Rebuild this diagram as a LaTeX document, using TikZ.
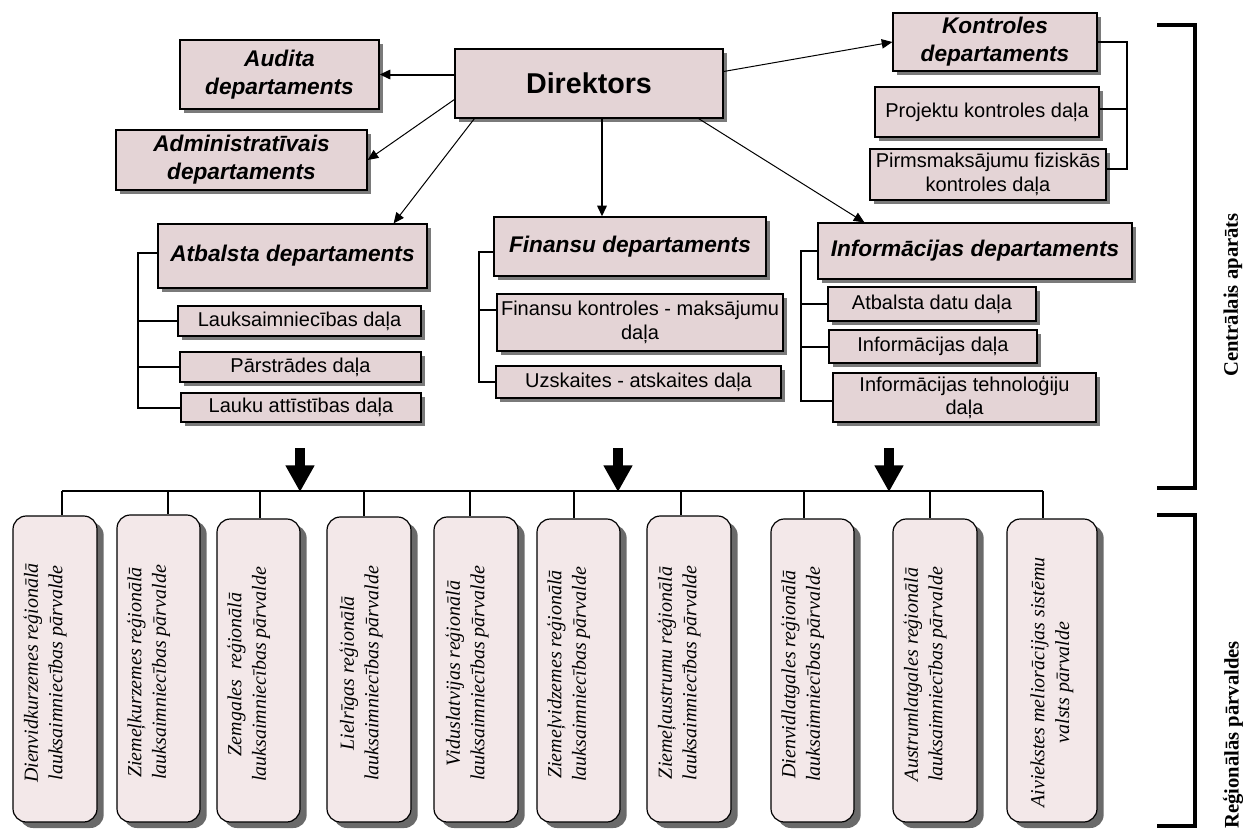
\documentclass[tikz,border=0pt]{standalone}
\usepackage{fontspec}
\setmainfont{Liberation Serif}
\newfontfamily\arialf{Liberation Sans}
\usetikzlibrary{arrows.meta,shadows,calc}
\definecolor{upfill}{HTML}{E4D4D6}
\definecolor{lowfill}{HTML}{F3E8E9}
\definecolor{shadegray}{HTML}{7A7A7A}
\definecolor{shadedark}{HTML}{6A6A6A}
\newcommand\orgbox[7]{\node[#6, minimum width={(#4-#2)*0.75pt}, minimum height={(#5-#3)*0.75pt}] (#1) at ({(#2+#4)/2},{(#3+#5)/2}) {#7};}
\tikzset{
  dept/.style={draw=black, line width=0.9pt, fill=upfill, inner sep=0pt, align=center,
    font=\arialf\bfseries\itshape\fontsize{17}{21}\selectfont,
    general shadow={fill=shadegray, shadow xshift=3pt, shadow yshift=-3pt}},
  subbox/.style={dept, font=\arialf\fontsize{15}{17.5}\selectfont},
  dirbox/.style={dept, font=\arialf\bfseries\fontsize{21.5}{26}\selectfont},
  regbox/.style={draw=black, line width=0.9pt, fill=lowfill, rounded corners=10pt, inner sep=0pt,
    general shadow={fill=shadedark, shadow xshift=5pt, shadow yshift=-4.5pt}},
  regtext/.style={rotate=90, align=center, inner sep=0pt, font=\itshape\fontsize{15}{18.5}\selectfont},
  side/.style={rotate=90, inner sep=0pt, font=\bfseries\fontsize{15.5}{18}\selectfont},
  thinc/.style={line width=0.75pt},
  thickc/.style={line width=1.5pt},
  arr/.style={-{Triangle[length=8pt,width=7pt]}},
  bigarr/.style={line width=8pt, -{Triangle[length=20pt,width=20.5pt]}},
  brack/.style={line width=3pt}
}
\begin{document}
\begin{tikzpicture}[x=0.75pt, y=-0.75pt]
\useasboundingbox (0,0) rectangle (1243,829);

% upper part
\orgbox{aud}{180}{40}{379}{109}{dept}{Audita\\departaments}
\orgbox{adm}{116}{130}{367}{190}{dept}{Administratīvais\\departaments}
\orgbox{dir}{455}{49}{723}{118}{dirbox}{Direktors}
\orgbox{kon}{893}{13}{1097}{71}{dept}{Kontroles\\departaments}
\orgbox{pro}{875}{87}{1099}{137}{subbox}{Projektu kontroles daļa}
\orgbox{pir}{870}{149}{1106}{200}{subbox}{Pirmsmaksājumu fiziskās\\kontroles daļa}
\orgbox{atb}{158}{224}{427}{288}{dept}{Atbalsta departaments}
\orgbox{la1}{178}{306}{421}{336}{subbox}{Lauksaimniecības daļa}
\orgbox{la2}{180}{352}{421}{382}{subbox}{Pārstrādes daļa}
\orgbox{la3}{181}{393}{421}{422}{subbox}{Lauku attīstības daļa}
\orgbox{fin}{494}{217}{766}{276}{dept}{Finansu departaments}
\orgbox{fk}{497}{294}{783}{351}{subbox}{Finansu kontroles - maksājumu\\daļa}
\orgbox{uz}{496}{366}{781}{398}{subbox}{Uzskaites - atskaites daļa}
\orgbox{inf}{818}{223}{1132}{279}{dept}{Informācijas departaments}
\orgbox{ad}{828}{287}{1036}{321}{subbox}{Atbalsta datu daļa}
\orgbox{idl}{829}{330}{1037}{363}{subbox}{Informācijas daļa}
\orgbox{it}{833}{373}{1096}{422}{subbox}{Informācijas tehnoloģiju\\daļa}

% connectors from Direktors
\draw[thickc, arr] (dir.west |- aud.east) -- (aud.east);
\draw[thinc, arr] ($(dir.west)+(0,16)$) -- (adm.east);
\draw[thinc, arr] ($(dir.south west)+(20,0)$) -- ($(atb.north east)+(-34,0)$);
\coordinate (fa) at ($(dir.south)+(13,0)$);
\draw[thickc, arr] (fa) -- (fa |- fin.north);
\draw[thinc, arr] ($(dir.south east)+(-25,0)$) -- ($(inf.north west)+(47,0)$);
\draw[thinc, arr] ($(dir.east)+(0,-12)$) -- (kon.west);

% Kontroles bracket
\coordinate (kx) at (1127,0);
\coordinate (pirc) at ($(pir.east)+(0,-6)$);
\coordinate (proc) at ($(pro.east)+(0,-3)$);
\draw[thickc] (kon.east) -- (kon.east -| kx) -- (pirc -| kx) -- (pirc);
\draw[thickc] (proc) -- (proc -| kx);

% Atbalsta
\coordinate (ax) at (138,0);
\coordinate (atbc) at ($(atb.west)+(0,-3)$);
\draw[thickc] (atbc) -- (atbc -| ax) -- (la3.west -| ax) -- (la3.west);
\draw[thickc] (la1.west -| ax) -- (la1.west);
\draw[thickc] (la2.west -| ax) -- (la2.west);

% Finansu
\coordinate (fx) at (479,0);
\coordinate (finc) at ($(fin.west)+(0,5)$);
\coordinate (fkc) at ($(fk.west)+(0,-13)$);
\draw[thickc] (finc) -- (finc -| fx) -- (uz.west -| fx) -- (uz.west);
\draw[thickc] (fkc -| fx) -- (fkc);

% Informacijas
\coordinate (ix) at (801,0);
\coordinate (itc) at ($(it.west)+(0,3)$);
\draw[thickc] (inf.west) -- (inf.west -| ix) -- (itc -| ix) -- (itc);
\draw[thickc] (ad.west -| ix) -- (ad.west);
\draw[thickc] (idl.west -| ix) -- (idl.west);

% big arrows and bus
\coordinate (ba1) at (300,448); \coordinate (bt1) at (300,492);
\coordinate (ba2) at (618,448); \coordinate (bt2) at (618,492);
\coordinate (ba3) at (889,448); \coordinate (bt3) at (889,492);
\draw[bigarr] (ba1) -- (bt1);
\draw[bigarr] (ba2) -- (bt2);
\draw[bigarr] (ba3) -- (bt3);
\coordinate (busL) at (62,491);
\coordinate (busR) at (1043,491);
\draw[thickc] (busL) -- (busR);

% regional boxes
\orgbox{r1}{13}{516}{97}{822}{regbox}{}
\orgbox{r2}{117}{515}{200}{822}{regbox}{}
\orgbox{r3}{217}{519}{300}{822}{regbox}{}
\orgbox{r4}{327}{517}{411}{822}{regbox}{}
\orgbox{r5}{434}{517}{518}{822}{regbox}{}
\orgbox{r6}{537}{519}{620}{822}{regbox}{}
\orgbox{r7}{647}{516}{731}{822}{regbox}{}
\orgbox{r8}{771}{519}{854}{822}{regbox}{}
\orgbox{r9}{893}{519}{977}{822}{regbox}{}
\orgbox{r10}{1007}{519}{1097}{822}{regbox}{}

\node[regtext] (t1) at ($(r1)+(-10,4)$) {Dienvidkurzemes reģionālā\\lauksaimniecības pārvalde};
\node[regtext] (t2) at ($(r2)+(-10,4)$) {Ziemeļkurzemes reģionālā\\lauksaimniecības pārvalde};
\node[regtext] (t3) at ($(r3)+(-10,4)$) {Zemgales~ reģionālā\\lauksaimniecības pārvalde};
\node[regtext] (t4) at ($(r4)+(-8,4)$) {Lielrīgas reģionālā\\lauksaimniecības pārvalde};
\node[regtext] (t5) at ($(r5)+(-9,4)$) {Viduslatvijas reģionālā\\lauksaimniecības pārvalde};
\node[regtext] (t6) at ($(r6)+(-10,4)$) {Ziemeļvidzemes reģionālā\\lauksaimniecības pārvalde};
\node[regtext] (t7) at ($(r7)+(-10,4)$) {Ziemeļaustrumu reģionālā\\lauksaimniecības pārvalde};
\node[regtext] (t8) at ($(r8)+(-10,4)$) {Dienvidlatgales reģionālā\\lauksaimniecības pārvalde};
\node[regtext] (t9) at ($(r9)+(-10,4)$) {Austrumlatgales reģionālā\\lauksaimniecības pārvalde};
\node[regtext] (t10) at ($(r10)+(0,12)$) {Aiviekstes meliorācijas sistēmu\\valsts pārvalde};

% drops
\foreach \i/\xx in {1/62, 2/168, 3/260, 4/364, 5/470, 6/574, 7/681, 8/804, 9/930, 10/1043}{
  \coordinate (d\i) at (\xx,491);
  \draw[thickc] (d\i) -- (d\i |- r\i.north);
}

% side brackets
\coordinate (b1a) at (1157,25); \coordinate (b1b) at (1195,25);
\coordinate (b1c) at (1195,488); \coordinate (b1d) at (1157,488);
\draw[brack] (b1a) -- (b1b) -- (b1c) -- (b1d);
\coordinate (b2a) at (1157,515); \coordinate (b2b) at (1195,515);
\coordinate (b2c) at (1195,826); \coordinate (b2d) at (1157,826);
\draw[brack] (b2a) -- (b2b) -- (b2c) -- (b2d);
\node[side] (lab1) at (1233,295) {Centrālais aparāts};
\node[side] (lab2) at (1233,735) {Reģionālās pārvaldes};
\end{tikzpicture}
\end{document}
